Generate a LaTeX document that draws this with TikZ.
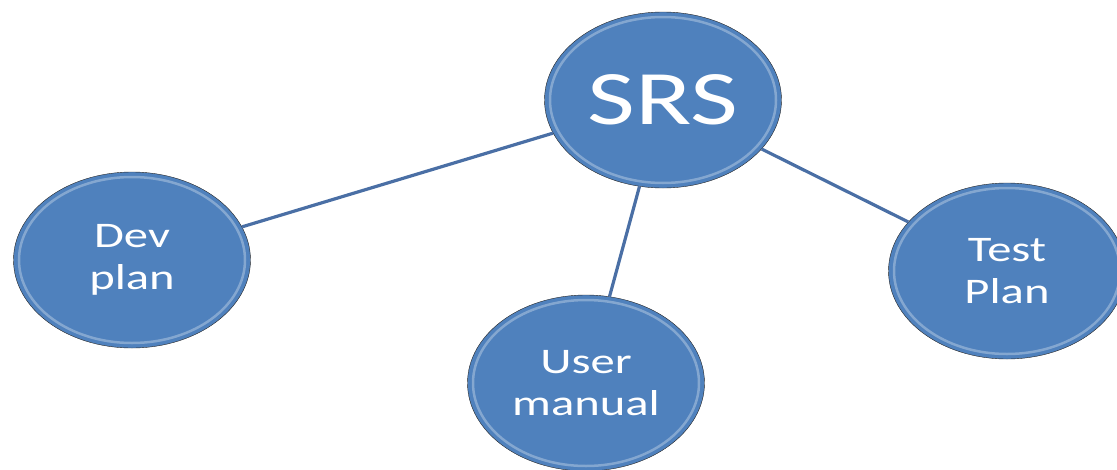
\documentclass[tikz,border=0pt]{standalone}
\usepackage{fontspec}
\setmainfont[FakeStretch=1.35]{Carlito}
\usetikzlibrary{shapes.geometric}
\definecolor{bolla}{HTML}{4F81BD}
\definecolor{arco}{HTML}{4A6FA5}

\begin{document}
\begin{tikzpicture}[x=1pt, y=-1pt,
    bolla/.style={ellipse, draw=black!85, thin, fill=bolla, text=white,
        minimum width=237pt, minimum height=176pt, inner sep=0pt, align=center,
        path picture={\draw[white, opacity=0.3, line width=2.5pt]
            (path picture bounding box.center) ellipse [x radius=113pt, y radius=83pt];}},
    arco/.style={draw=arco, line width=3.2pt}]
    \useasboundingbox (0,0) rectangle (1117,469);

    % Nodi
    \node[bolla, font=\fontsize{77}{80}\selectfont] (srs) at (663,100) {SRS};
    \foreach \n/\x/\y/\t in {dev/132/260/{Dev\\plan}, user/586/383/{User\\manual}, test/1007/271/{Test\\Plan}} {
        \node[bolla, font=\fontsize{36}{42}\selectfont] (\n) at (\x,\y) {\t};
    }

    % Archi
    \draw[arco] (srs) -- (dev);
    \draw[arco] (srs) -- (user);
    \draw[arco] (srs) -- (test);
\end{tikzpicture}
\end{document}
